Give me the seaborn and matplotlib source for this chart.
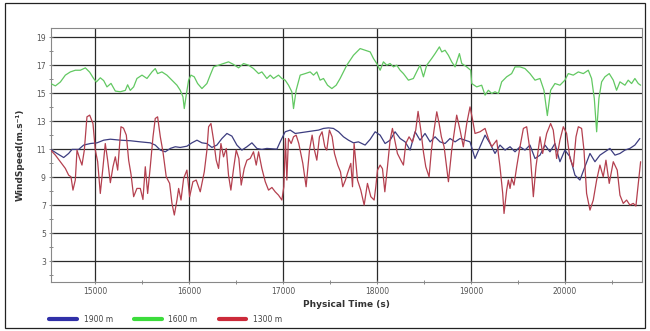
import matplotlib
matplotlib.use("Agg")
import matplotlib.pyplot as plt
from matplotlib.lines import Line2D
from matplotlib.patches import Rectangle
from matplotlib.ticker import MultipleLocator
import seaborn as sns
import pandas as pd

# ---------------- data ----------------
series_names = ["1900 m", "1600 m", "1300 m"]

t_1900 = [14525, 14592, 14663, 14716, 14752, 14823, 14876, 14947, 15018, 15089,
          15160, 15266, 15372, 15479, 15585, 15638, 15692, 15745, 15798, 15851,
          15904, 15975, 16028, 16082, 16135, 16188, 16241, 16294, 16348, 16401,
          16454, 16507, 16560, 16614, 16667, 16720, 16773, 16826, 16933, 16968,
          17021, 17075, 17128, 17181, 17252, 17323, 17376, 17429, 17482, 17535,
          17589, 17642, 17695, 17748, 17801,
          17872, 17925, 17979, 18032, 18085, 18138, 18191, 18245, 18298, 18351,
          18404, 18457, 18510, 18564, 18617, 18670, 18723, 18776, 18830, 18883,
          18936, 18989, 19042, 19095, 19149, 19202, 19255, 19308, 19362, 19415,
          19468, 19521, 19574, 19627, 19681, 19734, 19787, 19840, 19893, 19946,
          19999, 20053, 20106, 20159, 20212, 20266, 20319, 20372, 20425, 20478,
          20532, 20585, 20638, 20691, 20744, 20797]
v_1900 = [10.98, 10.69, 10.4, 10.69, 10.98, 10.98, 11.29, 11.4, 11.45, 11.64,
          11.71, 11.64, 11.6, 11.52, 11.45, 11.29, 10.93, 10.81, 11.05, 11.17,
          11.12, 11.21, 11.45, 11.64, 11.45, 11.4, 11.12, 11.29, 11.76, 12.12,
          11.93, 11.29, 10.93, 11.17, 11.45, 11.05, 10.98, 11.05, 11.0, 11.52,
          12.24, 12.36, 12.12, 12.17, 12.24, 12.31, 12.36, 12.48, 12.52, 12.48,
          12.24, 11.88, 11.64, 11.45, 11.52,
          11.29, 11.69, 12.24, 12.0, 11.4, 11.64, 12.24, 11.76, 11.52, 10.93,
          12.24, 11.64, 12.12, 11.52, 11.88, 11.52, 11.4, 11.76, 11.52, 11.76,
          11.64, 11.52, 10.33, 11.17, 12.0, 11.4, 10.69, 11.29, 10.93, 11.17,
          10.81, 11.17, 10.93, 11.29, 10.33, 10.57, 11.29, 10.81, 11.4, 10.1,
          10.93, 10.45, 9.14, 8.79, 9.74, 10.69, 10.1, 10.57, 10.81, 11.05,
          10.57, 10.69, 10.93, 11.05, 11.29, 11.76]

t_1600 = [14525, 14575, 14628, 14681, 14734, 14787, 14840, 14894, 14940, 14982,
          15011, 15053, 15089, 15124, 15167, 15213, 15266, 15319, 15344, 15372,
          15408, 15443, 15497, 15550, 15603, 15638, 15663, 15709, 15762, 15816,
          15869, 15904, 15933, 15947, 15965, 15993, 16018, 16053, 16089, 16135,
          16188, 16223, 16259, 16312, 16365, 16418, 16472, 16525, 16578, 16631,
          16684, 16738, 16773, 16826, 16862, 16897, 16950, 16986, 17021, 17057,
          17092, 17110, 17138, 17181, 17234, 17287, 17323, 17358, 17393, 17429,
          17472, 17518, 17564, 17606, 17677, 17748, 17819, 17872, 17926, 17961,
          17996, 18032, 18067, 18103, 18138, 18174, 18209, 18245, 18280, 18333,
          18386, 18429, 18457, 18493, 18528, 18581, 18617, 18663, 18688, 18723,
          18759, 18794, 18830, 18876, 18901, 18954, 18996, 19007, 19060, 19113,
          19149, 19184, 19220, 19255, 19291, 19326, 19379, 19432, 19468, 19521,
          19574, 19627, 19681, 19734, 19776, 19812, 19847, 19893, 19946, 19999,
          20035, 20088, 20142, 20195, 20248, 20283, 20312, 20337, 20361, 20390,
          20425, 20471, 20514, 20549, 20585, 20638, 20673, 20709, 20744, 20780,
          20805]
v_1600 = [15.69, 15.52, 15.8, 16.29, 16.52, 16.64, 16.64, 16.81, 16.5, 16.05,
          15.8, 16.1, 15.9, 15.45, 15.7, 15.15, 15.1, 15.2, 15.6, 15.2,
          15.45, 16.05, 16.29, 16.05, 16.52, 16.76, 16.4, 16.52, 16.29, 15.93,
          15.57, 15.21, 14.74, 13.9, 14.74, 15.93, 16.29, 16.17, 15.69, 15.33,
          15.69, 16.29, 16.88, 17.0, 17.12, 17.24, 17.05, 16.81, 17.12, 17.0,
          16.76, 16.4, 16.52, 16.05, 16.29, 16.05, 16.29, 16.05, 15.93, 15.57,
          15.1, 13.9, 15.21, 16.29, 16.4, 16.52, 16.29, 16.52, 15.93, 16.05,
          15.57, 15.33, 15.57, 16.05, 17.0, 17.71, 18.19, 18.07, 17.95, 17.48,
          17.12, 16.64, 17.24, 17.0, 17.12, 16.88, 17.0, 16.64, 16.4, 15.93,
          16.05, 16.64, 17.0, 16.17, 17.0, 17.48, 17.83, 18.31, 17.95, 18.07,
          17.71, 17.24, 16.88, 17.83, 17.12, 16.88, 16.64, 15.69, 15.45, 15.57,
          14.86, 15.21, 14.98, 15.1, 14.98, 15.81, 16.17, 16.4, 16.88, 16.88,
          16.76, 16.4, 15.93, 16.05, 15.21, 13.4, 15.21, 15.69, 15.57, 15.93,
          16.4, 16.29, 16.52, 16.4, 16.64, 16.05, 14.62, 12.24, 14.62, 15.81,
          16.17, 16.4, 15.93, 15.21, 15.81, 15.57, 15.93, 15.69, 16.05, 15.69,
          15.57]

t_1300 = [14525, 14575, 14628, 14681, 14716, 14741, 14762, 14787, 14805, 14833,
          14858, 14883, 14911, 14940, 14975, 15000, 15025, 15053, 15082, 15106,
          15131, 15160, 15188, 15213, 15238, 15273, 15300, 15330, 15355, 15380,
          15408, 15443, 15479, 15507, 15532, 15557, 15585, 15614, 15638, 15663,
          15692, 15720, 15755, 15791, 15816, 15841, 15869, 15887, 15912, 15940,
          15975, 16004, 16039, 16074, 16117, 16160, 16188, 16206, 16231, 16259,
          16287, 16312, 16337, 16365, 16394, 16418, 16443, 16472, 16500, 16528,
          16553, 16585, 16614, 16649, 16684, 16713, 16738, 16773, 16809, 16844,
          16880, 16915, 16950, 16986, 17007, 17024, 17039, 17056, 17085, 17110,
          17138, 17166, 17209, 17244, 17280, 17308, 17333, 17358, 17386, 17414,
          17443, 17464, 17492, 17521, 17546, 17581, 17610, 17634, 17663, 17684,
          17720, 17738, 17755, 17791, 17826, 17862, 17897, 17933, 17968, 17986,
          18004, 18032, 18057, 18082, 18110, 18138, 18163, 18188, 18216, 18252,
          18280, 18305, 18340, 18376, 18411, 18436, 18465, 18493, 18518, 18553,
          18578, 18606, 18635, 18660, 18684, 18713, 18759, 18794, 18847, 18883,
          18918, 18954, 18989, 19017, 19042, 19095, 19149, 19184, 19220, 19273,
          19308, 19337, 19351, 19379, 19397, 19415, 19432, 19457, 19486, 19521,
          19557, 19592, 19627, 19663, 19691, 19734, 19762, 19805, 19847, 19875,
          19911, 19946, 19982, 20017, 20053, 20088, 20117, 20142, 20177, 20202,
          20230, 20266, 20301, 20337, 20372, 20407, 20436, 20471, 20514, 20556,
          20585, 20620, 20656, 20691, 20727, 20755, 20780, 20805]
v_1300 = [10.93, 10.57, 10.1, 9.62, 9.14, 9.02, 8.07, 8.79, 10.93, 10.33,
          9.86, 10.93, 13.31, 13.43, 12.83, 10.93, 10.1, 7.83, 9.74, 11.4,
          10.21, 8.6, 9.74, 10.45, 9.5, 12.6, 12.5, 12.0, 10.2, 9.2,
          7.6, 8.19, 8.19, 7.4, 9.74, 7.83, 9.74, 11.88, 13.19, 13.31,
          11.88, 10.81, 9.02, 8.55, 7.12, 6.29, 7.36, 8.19, 7.36, 8.9,
          9.5, 7.6, 8.67, 8.79, 7.95, 9.38, 10.93, 12.6, 12.83, 11.64,
          10.21, 9.62, 11.4, 10.45, 11.05, 9.14, 8.07, 9.62, 10.93, 10.33,
          8.43, 9.62, 10.21, 10.33, 10.81, 9.86, 10.81, 9.62, 8.67, 8.07,
          8.26, 7.95, 7.71, 7.36, 8.31, 11.76, 8.79, 11.76, 11.4, 11.88,
          12.0, 11.4, 9.98, 8.31, 10.93, 12.0, 10.93, 10.21, 11.88, 12.24,
          11.17, 10.93, 12.36, 11.88, 10.69, 9.86, 9.38, 8.31, 8.79, 9.26,
          9.98, 8.31, 11.4, 8.79, 8.07, 7.0, 8.55, 7.6, 7.36, 8.31,
          9.5, 9.86, 9.6, 7.95, 9.74, 11.64, 12.48, 11.64, 10.69, 10.21,
          9.86, 11.4, 11.88, 11.5, 12.36, 13.7, 12.36, 10.8, 9.74, 9.02,
          10.93, 12.36, 13.67, 12.83, 11.88, 11.17, 8.67, 10.93, 13.43, 12.36,
          11.17, 12.83, 14.02, 13.07, 12.12, 12.24, 12.48, 11.76, 11.17, 11.64,
          9.74, 7.83, 6.4, 8.07, 8.79, 8.19, 8.9, 8.43, 9.74, 11.17,
          12.48, 12.6, 10.93, 7.6, 9.74, 11.88, 10.69, 12.12, 12.83, 12.36,
          10.33, 11.64, 12.6, 12.12, 10.33, 9.74, 11.88, 12.6, 12.48, 10.93,
          7.83, 6.64, 7.36, 8.79, 9.86, 9.02, 10.21, 8.55, 10.1, 9.5,
          7.71, 7.12, 7.36, 7.0, 7.12, 6.93, 8.55, 10.1]

assert len(t_1900) == len(v_1900)
assert len(t_1600) == len(v_1600)
assert len(t_1300) == len(v_1300)

x_ticks = [15000, 16000, 17000, 18000, 19000, 20000]
y_ticks = [3, 5, 7, 9, 11, 13, 15, 17, 19]

line_colors = {"1900 m": "#3d3d80", "1600 m": "#62c862", "1300 m": "#b4404f"}
legend_colors = {"1900 m": "#3030a8", "1600 m": "#3cdc3c", "1300 m": "#cc2a3a"}

# ---------------- plot ----------------
sns.set_theme(style="white")
plt.rcParams["font.family"] = ["DejaVu Sans"]

fig = plt.figure(figsize=(6.5, 3.31), dpi=100)
ax = fig.add_axes([0.078, 0.148, 0.909, 0.767])

frames = [
    pd.DataFrame({"t": t_1900, "v": v_1900, "s": "1900 m"}),
    pd.DataFrame({"t": t_1600, "v": v_1600, "s": "1600 m"}),
    pd.DataFrame({"t": t_1300, "v": v_1300, "s": "1300 m"}),
]
for df in frames:
    name = df["s"].iloc[0]
    sns.lineplot(data=df, x="t", y="v", ax=ax, color=line_colors[name],
                 linewidth=0.9, estimator=None, sort=False, legend=False, zorder=3)

ax.set_xlim(14525, 20815)
ax.set_ylim(1.5, 19.65)
ax.set_xticks(x_ticks)
ax.set_yticks(y_ticks)
ax.xaxis.set_minor_locator(MultipleLocator(500))
ax.yaxis.set_minor_locator(MultipleLocator(1))
ax.grid(True, which="major", color="#2a2a2a", linewidth=0.9, zorder=1)
ax.tick_params(axis="both", which="major", labelsize=5.5, labelcolor="#555555",
               length=3, width=0.6, color="#777777", direction="inout", pad=2)
ax.tick_params(axis="both", which="minor", length=3, width=0.6,
               color="#777777", direction="inout")
ax.tick_params(bottom=True, left=True, which="both")
# major y ticks only labelled at odd values; minor ticks at even values
ax.set_yticks([2, 4, 6, 8, 10, 12, 14, 16, 18], minor=True)

for side in ["left", "bottom", "top", "right"]:
    ax.spines[side].set_visible(True)
    ax.spines[side].set_color("#888888")
    ax.spines[side].set_linewidth(0.8)

ax.set_xlabel("Physical Time (s)", fontsize=6.5, fontweight="bold",
              color="#333333", labelpad=3)
ax.set_ylabel("WindSpeed(m.s⁻¹)", fontsize=6.5, fontweight="bold",
              color="#333333", labelpad=8)

handles = [Line2D([0], [0], color=legend_colors[n], linewidth=3) for n in series_names]
fig.legend(handles, series_names, loc="lower left", bbox_to_anchor=(0.065, 0.0),
           ncol=3, frameon=False, fontsize=5.5, handlelength=3.6,
           columnspacing=2.8, handletextpad=0.9, labelcolor="#444444")

fig.patches.append(Rectangle((0.007, 0.008), 0.986, 0.984, transform=fig.transFigure,
                             fill=False, edgecolor="#222222", linewidth=0.9))

fig.savefig("out.png", dpi=100)
